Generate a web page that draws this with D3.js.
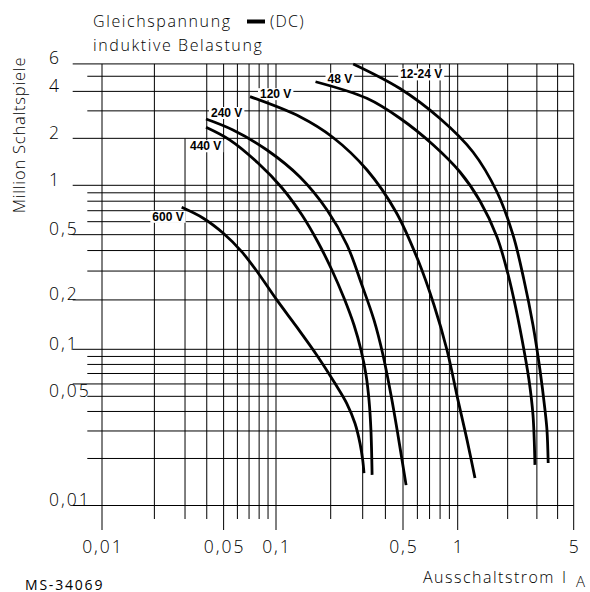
<!DOCTYPE html>
<html>
<head>
<meta charset="utf-8">
<script src="https://cdn.jsdelivr.net/npm/d3@7"></script>
<style>
	body { margin: 0; background: #fff; }
	svg { display: block; }
	.txt { font-family: "Open Sans", "DejaVu Sans", sans-serif; font-weight: 300; fill: #000; }
	.clabel { font-family: "Liberation Sans", Arial, sans-serif; font-weight: bold; font-size: 12px; fill: #000; }
	.grid line { stroke: #000; stroke-width: 1; }
</style>
</head>
<body>
<div id="chart"></div>
<script>
// axis values (current in A, switching cycles in millions)
const xGrid = [0.01, 0.02, 0.03, 0.04, 0.05, 0.06, 0.07, 0.08, 0.09,
	0.1, 0.2, 0.3, 0.4, 0.5, 0.6, 0.7, 0.8, 0.9, 1, 2, 3, 4, 5];
const xLabelValues = [0.01, 0.05, 0.1, 0.5, 1, 5];
const xLabels = ["0,01", "0,05", "0,1", "0,5", "1", "5"];

const yLabelValues = [6, 4, 2, 1, 0.5, 0.2, 0.1, 0.05, 0.01];
const yLabels = ["6", "4", "2", "1", "0,5", "0,2", "0,1", "0,05", "0,01"];
// long lines (the drawing has its heavy line at 0.06, not 0.05)
const yLong = [6, 4, 2, 1, 0.5, 0.2, 0.1, 0.06, 0.01];
const yShort = [5, 3, 0.9, 0.8, 0.7, 0.6, 0.4, 0.3, 0.09, 0.08, 0.07, 0.05, 0.04, 0.03, 0.02];

const voltages = ["600 V", "440 V", "240 V", "120 V", "48 V", "12-24 V"];

const curve600 = [[0.0287, 0.734], [0.0382, 0.63], [0.0498, 0.51], [0.0635, 0.394], [0.0791, 0.291],
	[0.101, 0.2], [0.130, 0.137], [0.1675, 0.092], [0.211, 0.0606], [0.245, 0.0451],
	[0.272, 0.0336], [0.29, 0.025], [0.30, 0.0196], [0.305, 0.0161]];
const curve440 = [[0.0396, 2.355], [0.0544, 1.95], [0.0788, 1.39], [0.108, 0.963], [0.139, 0.659],
	[0.170, 0.451], [0.203, 0.3045], [0.2367, 0.2055], [0.2687, 0.1406], [0.2936, 0.099],
	[0.313, 0.0685], [0.325, 0.0473], [0.333, 0.0304], [0.338, 0.0157]];
const curve240 = [[0.0396, 2.66], [0.0566, 2.262], [0.0887, 1.684], [0.1355, 1.13], [0.191, 0.707],
	[0.246, 0.4325], [0.297, 0.2466], [0.346, 0.151], [0.388, 0.092], [0.4295, 0.051],
	[0.469, 0.0283], [0.52, 0.0135]];
const curve120 = [[0.0709, 3.70], [0.1355, 2.75], [0.206, 2.025], [0.317, 1.253], [0.4575, 0.6875],
	[0.6045, 0.35], [0.7405, 0.1862], [0.873, 0.099], [1.004, 0.0473],
	[1.138, 0.0263], [1.271, 0.015]];
const curve48 = [[0.165, 4.61], [0.316, 3.61], [0.481, 2.69], [0.734, 1.813], [1.032, 1.217],
	[1.362, 0.802], [1.725, 0.484], [2.009, 0.2878], [2.245, 0.1761], [2.508, 0.099],
	[2.689, 0.0636], [2.842, 0.038], [2.92, 0.0182]];
const curve12 = [[0.266, 6.0], [0.481, 4.174], [0.799, 2.68], [1.236, 1.635], [1.725, 0.910],
	[2.154, 0.498], [2.508, 0.2646], [2.842, 0.1406], [3.132, 0.0737], [3.357, 0.0409],
	[3.451, 0.0304], [3.51, 0.0187]];
const curves = [curve600, curve440, curve240, curve120, curve48, curve12];

// label placement relative to the curve start, in px: [dx, dy, anchor]
const labelPlace = [[2, 13.5, "end"], [-16, 23, "start"], [5, -2, "start"],
	[10, 1.5, "start"], [12, 1, "start"], [47, 14.5, "start"]];

const width = 590, height = 592;

var svg = d3.select("#chart").append("svg")
		.attr("width", width)
		.attr("height", height);

// the sheet is a hand-drawn log grid, so the decades differ a little in length
var x = d3.scaleLog()
		.domain([0.01, 0.1, 1, 5])
		.range([102, 276, 457.7, 573.7]);
var y = d3.scaleLog()
		.domain([0.01, 0.1, 1, 10])
		.range([505.5, 349.3, 185.3, 29.3]);

var gridTop = y(6), gridBottom = 519, tickBottom = 530;
var xRight = x(5);

var grid = svg.append("g").attr("class", "grid");

grid.selectAll(".vl")
		.data(xGrid)
	.enter().append("line")
		.attr("class", "vl")
		.attr("x1", d => x(d)).attr("x2", d => x(d))
		.attr("y1", d => d === 0.03 ? y(2) : gridTop)
		.attr("y2", d => xLabelValues.includes(d) ? tickBottom : gridBottom);

grid.selectAll(".hl")
		.data(yLong)
	.enter().append("line")
		.attr("class", "hl")
		.attr("x1", 72.7).attr("x2", xRight)
		.attr("y1", d => y(d)).attr("y2", d => y(d));

grid.selectAll(".hs")
		.data(yShort)
	.enter().append("line")
		.attr("class", "hs")
		.attr("x1", 87.3).attr("x2", xRight)
		.attr("y1", d => y(d)).attr("y2", d => y(d));

// tick labels
svg.append("g").selectAll("text")
		.data(yLabelValues)
	.enter().append("text")
		.attr("class", "txt")
		.attr("x", 49)
		.attr("y", d => y(d) + 0.5)
		.style("font-size", "17.5px")
		.style("letter-spacing", "2px")
		.text((d, i) => yLabels[i]);

svg.append("g").selectAll("text")
		.data(xLabelValues)
	.enter().append("text")
		.attr("class", "txt")
		.attr("x", d => x(d) + 1)
		.attr("y", 553)
		.attr("text-anchor", "middle")
		.style("font-size", "17.5px")
		.style("letter-spacing", "2px")
		.text((d, i) => xLabels[i]);

// titles
svg.append("text")
		.attr("class", "txt")
		.attr("x", 93).attr("y", 26.5)
		.style("font-size", "16px")
		.style("letter-spacing", "1.6px")
		.text("Gleichspannung");
svg.append("line")
		.attr("x1", 247).attr("x2", 265)
		.attr("y1", 21.5).attr("y2", 21.5)
		.attr("stroke", "#000").attr("stroke-width", 4);
svg.append("text")
		.attr("class", "txt")
		.attr("x", 270).attr("y", 26.5)
		.style("font-size", "16px")
		.style("letter-spacing", "1.2px")
		.text("(DC)");
svg.append("text")
		.attr("class", "txt")
		.attr("x", 93).attr("y", 51)
		.style("font-size", "16px")
		.style("letter-spacing", "1.6px")
		.text("induktive Belastung");

svg.append("text")
		.attr("class", "txt")
		.attr("transform", "translate(25, 135) rotate(-90)")
		.attr("text-anchor", "middle")
		.style("font-size", "16.5px")
		.style("letter-spacing", "0.8px")
		.text("Million Schaltspiele");

var xt = svg.append("text")
		.attr("class", "txt")
		.attr("x", 423).attr("y", 583)
		.style("font-size", "16px")
		.style("letter-spacing", "1.5px")
		.text("Ausschaltstrom");
xt.append("tspan")
		.attr("x", 562)
		.text("I");
xt.append("tspan")
		.attr("x", 576).attr("dy", 4)
		.style("font-size", "15px")
		.text("A");

svg.append("text")
		.attr("class", "txt")
		.attr("x", 25).attr("y", 589.5)
		.style("font-size", "14px")
		.style("font-weight", 400)
		.style("letter-spacing", "1.8px")
		.text("MS-34069");

// curve labels with a white box that cuts the grid
var labels = svg.append("g").selectAll("g")
		.data(voltages)
	.enter().append("g");

labels.append("text")
		.attr("class", "clabel")
		.attr("x", (d, i) => x(curves[i][0][0]) + labelPlace[i][0])
		.attr("y", (d, i) => y(curves[i][0][1]) + labelPlace[i][1])
		.attr("text-anchor", (d, i) => labelPlace[i][2])
		.text(d => d);

labels.each(function () {
	var g = d3.select(this),
		b = g.select("text").node().getBBox();
	g.insert("rect", "text")
			.attr("x", b.x - 2).attr("y", b.y + 1)
			.attr("width", b.width + 4).attr("height", b.height - 2)
			.attr("fill", "#fff");
});

var line = d3.line()
		.x(d => x(d[0]))
		.y(d => y(d[1]))
		.curve(d3.curveCatmullRom.alpha(0.5));

svg.append("g").selectAll("path")
		.data(curves)
	.enter().append("path")
		.attr("d", line)
		.attr("fill", "none")
		.attr("stroke", "#000")
		.attr("stroke-width", 2.8);
</script>
</body>
</html>
